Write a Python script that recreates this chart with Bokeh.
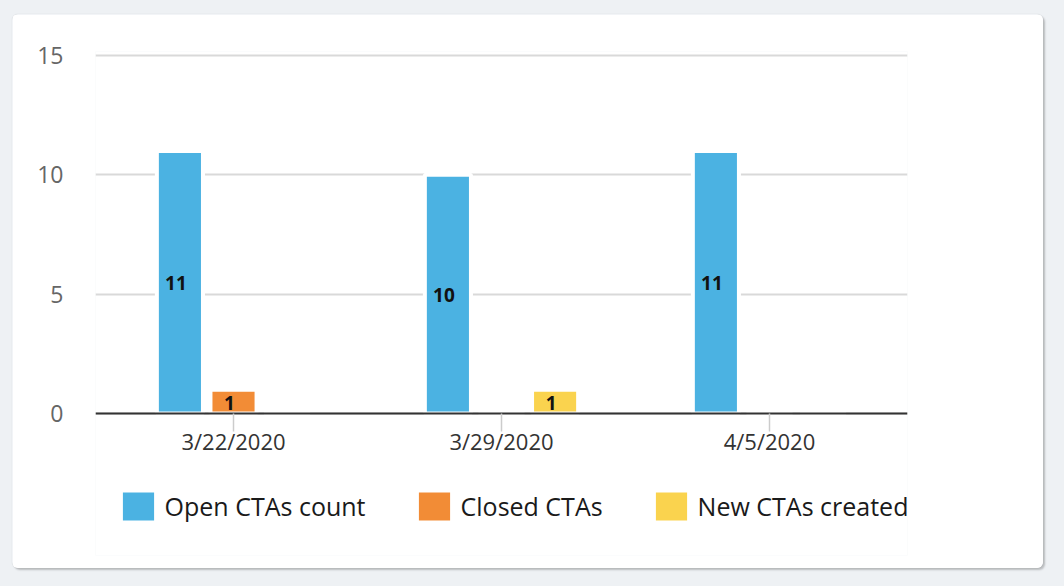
from bokeh.plotting import figure
from bokeh.models import (ColumnDataSource, FactorRange, Range1d, FixedTicker,
                          Legend, LegendItem, GlobalInlineStyleSheet)
from bokeh.transform import dodge
from bokeh.core.properties import value
from bokeh.embed import file_html
from bokeh.resources import INLINE

# ---- data ----
dates = ["3/22/2020", "3/29/2020", "4/5/2020"]
open_ctas = [11, 10, 11]
closed_ctas = [1, 0, 0]
new_ctas = [0, 1, 0]
series_names = ["Open CTAs count", "Closed CTAs", "New CTAs created"]
series_keys = ["open", "closed", "new"]
colors = ["#4bb2e2", "#f28c36", "#fad34e"]
y_ticks = [0, 5, 10, 15]

FONT = "Open Sans"

source = ColumnDataSource(dict(date=dates, open=open_ctas, closed=closed_ctas, new=new_ctas))

# frame extends below the zero line to hold the legend; the x axis sits at y = 0
p = figure(
    x_range=FactorRange(factors=dates, range_padding=0.015, range_padding_units="absolute"),
    y_range=Range1d(-5.95, 15.168),
    frame_width=812, frame_height=504,
    output_backend="svg", toolbar_location=None,
    min_border_left=83, min_border_right=136, min_border_top=37, min_border_bottom=13,
    background_fill_color="white", border_fill_color="white",
    outline_line_color=None,
    margin=(14, 0, 0, 12),
)
p.styles = {"border-radius": "6px", "overflow": "hidden",
            "box-shadow": "0 0 1px rgba(0,0,0,0.18), 2px 2px 2px rgba(0,0,0,0.22)"}
p.stylesheets = [GlobalInlineStyleSheet(css="body { background-color: #eef1f4; }")]

offsets = [-0.2, 0.0, 0.2]
renderers = []
for key, off, col in zip(series_keys, offsets, colors):
    r = p.vbar(x=dodge("date", off, range=p.x_range), top=key, width=0.172, source=source,
               fill_color=col, line_color="white", line_width=4)
    renderers.append(r)
    vals = source.data[key]
    lx = [d for d, v in zip(dates, vals) if v > 0]
    ly = [v / 2 for v in vals if v > 0]
    lt = [str(v) for v in vals if v > 0]
    lsrc = ColumnDataSource(dict(x=lx, y=ly, t=lt))
    p.text(x=dodge("x", off, range=p.x_range), y="y", text="t", source=lsrc,
           text_align="center", text_baseline="middle", text_font=value(FONT),
           text_font_size="19px", text_font_style="bold", text_color="#111111",
           x_offset=-4, y_offset=1)

# axes
p.yaxis.ticker = FixedTicker(ticks=y_ticks)
p.yaxis.axis_line_color = None
p.yaxis.major_tick_line_color = None
p.yaxis.minor_tick_line_color = None
p.yaxis.major_tick_out = 0
p.yaxis.major_tick_in = 0
p.yaxis.major_label_standoff = 32
p.yaxis.major_label_text_font = FONT
p.yaxis.major_label_text_font_size = "23px"
p.yaxis.major_label_text_color = "#666666"

p.xaxis.fixed_location = 0
p.xaxis.axis_line_color = "#333333"
p.xaxis.axis_line_width = 2
p.xaxis.major_tick_line_color = "#cccccc"
p.xaxis.major_tick_line_width = 1.5
p.xaxis.major_tick_out = 18
p.xaxis.major_tick_in = 0
p.xaxis.major_label_standoff = -5
p.xaxis.major_label_text_font = FONT
p.xaxis.major_label_text_font_size = "22px"
p.xaxis.major_label_text_color = "#333333"

p.xgrid.grid_line_color = None
p.ygrid.grid_line_color = "#d9d9d9"
p.ygrid.grid_line_width = 1.8
p.ygrid.ticker = FixedTicker(ticks=y_ticks)

legend = Legend(
    items=[LegendItem(label=n, renderers=[r]) for n, r in zip(series_names, renderers)],
    orientation="horizontal", location=(20.6, 29),
    glyph_width=44, glyph_height=40, label_height=40,
    label_standoff=5, spacing=46, padding=0, margin=0,
    border_line_color=None, background_fill_alpha=0,
    label_text_font=FONT, label_text_font_size="25px", label_text_color="#1a1a1a",
)
p.add_layout(legend, "center")

open("out.html", "w").write(file_html(p, INLINE))
